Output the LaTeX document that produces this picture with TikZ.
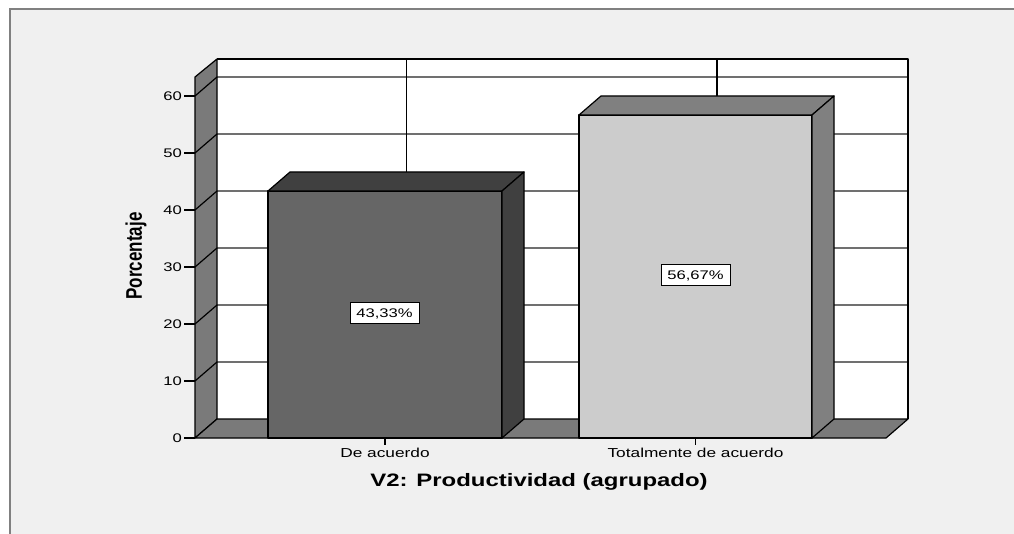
\documentclass[tikz,border=0pt]{standalone}
\usepackage{fontspec}
\setmainfont{Liberation Sans}
\usepackage{graphicx}
\newcommand\hs[1]{\scalebox{1.33}[1]{#1}}
\definecolor{bgc}{HTML}{F0F0F0}
\definecolor{framec}{HTML}{808080}
\definecolor{wallc}{HTML}{7A7A7A}
\definecolor{gridc}{HTML}{707070}
\definecolor{bonefront}{HTML}{666666}
\definecolor{bonedark}{HTML}{404040}
\definecolor{btwofront}{HTML}{CCCCCC}
\definecolor{btwodark}{HTML}{808080}
\tikzset{
  edge/.style={draw=black, line width=1.2pt, line join=round},
  ticklab/.style={anchor=east, inner sep=1pt, font=\fontsize{12.5}{14}\selectfont},
  catlab/.style={anchor=base, inner sep=0pt, font=\fontsize{13}{15}\selectfont},
  pctbox/.style={draw=black, line width=1pt, fill=white, inner sep=0pt, minimum width=69pt, minimum height=21pt, font=\fontsize{12.5}{14}\selectfont}
}
\begin{document}
\begin{tikzpicture}[x=1pt,y=-1pt]
\useasboundingbox (0,0) rectangle (1014,534);
\fill[white] (0,0) rectangle (1014,534);
\draw[draw=framec, line width=2pt, fill=bgc] (10,9.5) rectangle (1030,560);
% back wall
\fill[white] (217,59) rectangle (908,419);
\foreach \v in {10,20,...,60}{
  \draw[gridc, line width=1.2pt] (217,{419-5.7*\v}) -- (908,{419-5.7*\v});
}
\draw[black, line width=1.2pt] (406.5,59) -- (406.5,419);
\draw[black, line width=1.2pt] (717,59) -- (717,419);
\draw[edge] (217,59) -- (908,59) -- (908,419);
% side wall
\filldraw[edge, fill=wallc] (195,438) -- (195,77) -- (217,59) -- (217,419) -- cycle;
\foreach \v in {10,20,...,60}{
  \draw[edge] (195,{438-5.7*\v}) -- (217,{419-5.7*\v});
}
% floor
\filldraw[edge, fill=wallc] (195,438) -- (217,419) -- (908,419) -- (886,438) -- cycle;
% ticks and labels
\foreach \v in {0,10,...,60}{
  \draw[black, line width=1.2pt] (184,{438-5.7*\v}) -- (195,{438-5.7*\v});
  \node[ticklab] (t\v) at (183,{438-5.7*\v}) {\hs{\v}};
}
% bar 1
\filldraw[edge, fill=bonefront] (268,438) rectangle (502,191);
\filldraw[edge, fill=bonedark] (268,191) -- (290,172) -- (524,172) -- (502,191) -- cycle;
\filldraw[edge, fill=bonedark] (502,191) -- (524,172) -- (524,419) -- (502,438) -- cycle;
% bar 2
\filldraw[edge, fill=btwofront] (579,438) rectangle (812,115);
\filldraw[edge, fill=btwodark] (579,115) -- (601,96) -- (834,96) -- (812,115) -- cycle;
\filldraw[edge, fill=btwodark] (812,115) -- (834,96) -- (834,419) -- (812,438) -- cycle;
% category ticks
\draw[black, line width=1.2pt] (385,438) -- (385,445);
\draw[black, line width=1.2pt] (695.5,438) -- (695.5,445);
\node[catlab] (c1) at (385,457) {\hs{De acuerdo}};
\node[catlab] (c2) at (695.5,457) {\hs{Totalmente de acuerdo}};
% value labels
\node[pctbox] (p1) at (384.5,313.5) {\hs{43,33\%}};
\node[pctbox] (p2) at (695.5,275.5) {\hs{56,67\%}};
% axis titles
\node[anchor=base, inner sep=0pt, font=\bfseries\fontsize{18}{20}\selectfont] (xt) at (539,486) {\hs{V2: Productividad (agrupado)}};
\node[rotate=90, inner sep=0pt, font=\bfseries\fontsize{17}{19}\selectfont] (yt) at (136,256) {\scalebox{1}[1.33]{Porcentaje}};
\end{tikzpicture}
\end{document}
